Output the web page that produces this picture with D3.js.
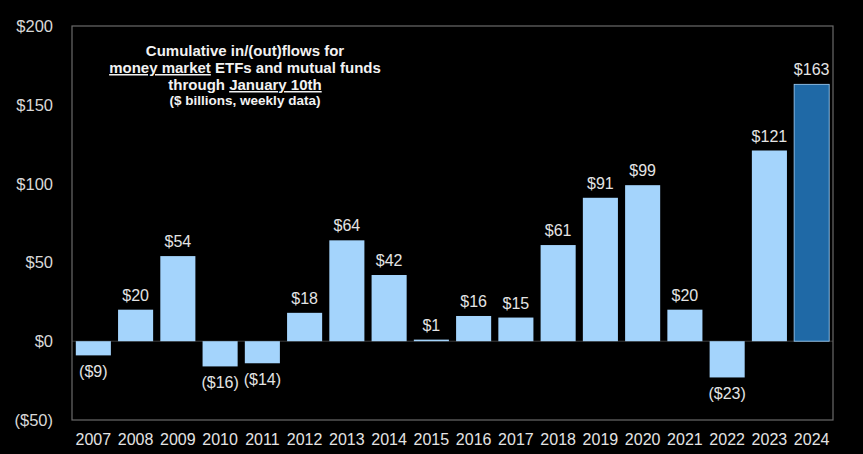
<!DOCTYPE html>
<html>
<head>
<meta charset="utf-8">
<script src="https://d3js.org/d3.v7.min.js"></script>
<style>
  body { margin: 0; background: #000; }
  svg text { font-family: 'Liberation Sans', Arial, sans-serif; }
</style>
</head>
<body>
<div id="chart"></div>
<script>
// chart data
const years = ['2007','2008','2009','2010','2011','2012','2013','2014','2015','2016','2017','2018','2019','2020','2021','2022','2023','2024']
const flows = [-9, 20, 54, -16, -14, 18, 64, 42, 1, 16, 15, 61, 91, 99, 20, -23, 121, 163]
const yTicks = [-50, 0, 50, 100, 150, 200]

const W = 863, H = 454
const margin = {top: 26, right: 30, bottom: 34, left: 72}
const w = W - margin.left - margin.right
const h = H - margin.top - margin.bottom

const fmt = v => v < 0 ? `($${Math.abs(v)})` : `$${v}`

const svg = d3.select('#chart').append('svg')
  .attr('width', W).attr('height', H)
  .style('background', '#000')

const g = svg.append('g').attr('transform', `translate(${margin.left},${margin.top})`)

const x = d3.scaleBand().domain(years).range([0, w]).paddingInner(0.17).paddingOuter(0.09)
const y = d3.scaleLinear().domain([-50, 200]).range([h, 0])

// zero line
g.append('line')
  .attr('x1', 0).attr('x2', w)
  .attr('y1', y(0)).attr('y2', y(0))
  .attr('stroke', '#3a3a3a').attr('stroke-width', 1)

// bars
g.selectAll('rect.bar')
  .data(flows)
  .join('rect')
  .attr('class', 'bar')
  .attr('x', (d, i) => x(years[i]))
  .attr('width', x.bandwidth())
  .attr('y', d => y(Math.max(0, d)))
  .attr('height', d => Math.max(1.5, Math.abs(y(d) - y(0))))
  .attr('fill', (d, i) => years[i] === '2024' ? '#1f69a6' : '#a4d4fc')
  .attr('stroke', (d, i) => years[i] === '2024' ? '#a4d4fc' : 'none')
  .attr('stroke-width', 0.8)

// value labels
g.selectAll('text.val')
  .data(flows)
  .join('text')
  .attr('class', 'val')
  .attr('x', (d, i) => x(years[i]) + x.bandwidth() / 2)
  .attr('y', d => d >= 0 ? y(d) - 9 : y(d) + 22)
  .attr('text-anchor', 'middle')
  .attr('fill', '#e4e4e4')
  .style('font-size', '16px')
  .text(fmt)

// frame
g.append('rect')
  .attr('x', 0).attr('y', 0).attr('width', w).attr('height', h)
  .attr('fill', 'none').attr('stroke', '#6a6a6a').attr('stroke-width', 1.2)

// y axis labels
g.selectAll('text.ytick')
  .data(yTicks)
  .join('text')
  .attr('class', 'ytick')
  .attr('x', -19)
  .attr('y', d => y(d) + 6)
  .attr('text-anchor', 'end')
  .attr('fill', '#d8d8d8')
  .style('font-size', '16.5px')
  .text(d => d < 0 ? `($${Math.abs(d)})` : `$${d}`)

// x axis labels
g.selectAll('text.xtick')
  .data(years)
  .join('text')
  .attr('class', 'xtick')
  .attr('x', d => x(d) + x.bandwidth() / 2)
  .attr('y', h + 25)
  .attr('text-anchor', 'middle')
  .attr('fill', '#e4e4e4')
  .style('font-size', '16px')
  .text(d => d)

// title block
const title = svg.append('text')
  .attr('x', 245)
  .attr('text-anchor', 'middle')
  .attr('fill', '#f2f2f2')
  .style('font-weight', 'bold')
  .style('font-size', '15px')

title.append('tspan').attr('x', 245).attr('y', 56).text('Cumulative in/(out)flows for')
const l2 = title.append('tspan').attr('x', 245).attr('y', 73)
l2.append('tspan').style('text-decoration', 'underline').text('money market')
l2.append('tspan').text(' ETFs and mutual funds')
const l3 = title.append('tspan').attr('x', 245).attr('y', 90)
l3.append('tspan').text('through ')
l3.append('tspan').style('text-decoration', 'underline').text('January 10th')
title.append('tspan').attr('x', 245).attr('y', 105).style('font-size', '13.5px').text('($ billions, weekly data)')
</script>
</body>
</html>
